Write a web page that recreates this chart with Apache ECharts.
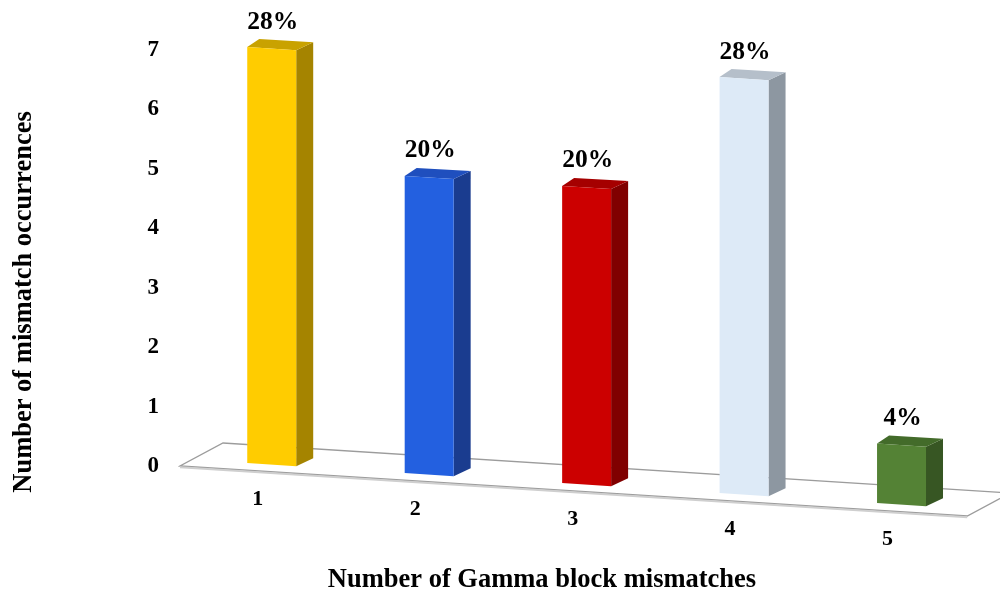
<!DOCTYPE html>
<html>
<head>
<meta charset="utf-8">
<script src="https://cdn.jsdelivr.net/npm/echarts@6/dist/echarts.min.js"></script>
<style>
  html, body { margin: 0; padding: 0; background: #fff; }
  #chart { width: 1000px; height: 595px; }
</style>
</head>
<body>
<div id="chart"></div>
<script>
// Mismatch counts per number of Gamma block mismatches
const categories = ['1', '2', '3', '4', '5'];
const occurrences = [7, 5, 5, 7, 1];
const yTicks = [0, 1, 2, 3, 4, 5, 6, 7];

// Face colours of each box: front, right side, top
const frontColors = ['#FFCC00', '#2360E0', '#CC0000', '#DDEAF7', '#548235'];
const sideColors  = ['#A58400', '#1A3C8F', '#800000', '#8D97A1', '#375623'];
const topColors   = ['#C9A200', '#1F4FBE', '#A50000', '#B5BFCA', '#436B2A'];

const total = occurrences.reduce((a, b) => a + b, 0);
const FONT = '"Liberation Serif", "Times New Roman", serif';

// Tilted-floor projection settings
const SLOPE = 0.0635;     // floor descends to the right
const LIFT = 6.4;         // box front plane sits above the axis baseline
const BAR_RATIO = 0.311;  // box width as a share of the category band
const DEPTH_L = [12, -8];
const DEPTH_R = [17, -8];
const FLOOR_IN = 13;
const FLOOR_DEPTH = [43, -23];

function renderFloor(params, api) {
  const cs = params.coordSys;
  const fl = [cs.x - FLOOR_IN, cs.y + cs.height];
  const fr = [cs.x + cs.width - FLOOR_IN, fl[1] + SLOPE * cs.width];
  const bl = [fl[0] + FLOOR_DEPTH[0], fl[1] + FLOOR_DEPTH[1]];
  const br = [fr[0] + FLOOR_DEPTH[0], fr[1] + FLOOR_DEPTH[1]];
  return {
    type: 'group',
    children: [
      { type: 'polygon', shape: { points: [fl, fr, br, bl] },
        style: { fill: '#ffffff', stroke: '#9C9C9C', lineWidth: 1.3 } },
      { type: 'line', shape: { x1: fl[0], y1: fl[1] + 1.2, x2: fr[0], y2: fr[1] + 1.2 },
        style: { stroke: '#CFCFCF', lineWidth: 2 } }
    ]
  };
}

function renderBar(params, api) {
  const i = api.value(0);
  const v = api.value(1);
  const idx = params.dataIndex;
  const zero = api.coord([i, 0]);
  const top = api.coord([i, v]);
  const band = api.size([1, 0])[0];
  const w = band * BAR_RATIO;
  const x0 = params.coordSys.x;
  const xl = zero[0] - w / 2;
  const xr = xl + w;
  const yl = zero[1] + SLOPE * (xl - x0) - LIFT;
  const yr = yl + SLOPE * w;
  const h = zero[1] - top[1];

  const front = [[xl, yl], [xr, yr], [xr, yr - h], [xl, yl - h]];
  const side = [[xr, yr], [xr + DEPTH_R[0], yr + DEPTH_R[1]],
                [xr + DEPTH_R[0], yr + DEPTH_R[1] - h], [xr, yr - h]];
  const lid = [[xl, yl - h], [xr, yr - h],
               [xr + DEPTH_R[0], yr - h + DEPTH_R[1]], [xl + DEPTH_L[0], yl - h + DEPTH_L[1]]];
  const pct = Math.round(v / total * 100) + '%';

  return {
    type: 'group',
    children: [
      { type: 'polygon', shape: { points: side }, style: { fill: sideColors[idx] } },
      { type: 'polygon', shape: { points: lid }, style: { fill: topColors[idx] } },
      { type: 'polygon', shape: { points: front }, style: { fill: frontColors[idx] } },
      { type: 'text', x: xl + w / 2 + 1, y: yl - h - 25,
        style: { text: pct, fill: '#000', font: 'bold 25.5px ' + FONT,
                 align: 'center', verticalAlign: 'middle' } },
      { type: 'text', x: xl + w / 2 - 14, y: yl + 36,
        style: { text: categories[idx], fill: '#000', font: 'bold 22px ' + FONT,
                 align: 'center', verticalAlign: 'middle' } }
    ]
  };
}

const chart = echarts.init(document.getElementById('chart'));
chart.setOption({
  animation: false,
  backgroundColor: '#ffffff',
  grid: { left: 193, right: 19.75, top: 50, bottom: 129, outerBoundsMode: 'none' },
  xAxis: {
    type: 'category',
    data: categories,
    axisLine: { show: false },
    axisTick: { show: false },
    axisLabel: { show: false },
    splitLine: { show: false }
  },
  yAxis: {
    type: 'value',
    min: yTicks[0],
    max: yTicks[yTicks.length - 1],
    interval: 1,
    axisLine: { show: false },
    axisTick: { show: false },
    splitLine: { show: false },
    axisLabel: {
      margin: 34,
      color: '#000',
      fontFamily: FONT,
      fontWeight: 'bold',
      fontSize: 23
    }
  },
  graphic: [
    { type: 'text', x: 542, y: 580,
      style: { text: 'Number of Gamma block mismatches', fill: '#000',
               font: 'bold 26.5px ' + FONT, align: 'center', verticalAlign: 'middle' } },
    { type: 'text', x: 24, y: 302, rotation: Math.PI / 2,
      style: { text: 'Number of mismatch occurrences', fill: '#000',
               font: 'bold 26.5px ' + FONT, align: 'center', verticalAlign: 'middle' } }
  ],
  series: [
    {
      type: 'custom',
      z: 1,
      silent: true,
      renderItem: renderFloor,
      data: [[0, 0]]
    },
    {
      type: 'custom',
      z: 2,
      renderItem: renderBar,
      data: occurrences.map((v, i) => [i, v])
    }
  ]
});
</script>
</body>
</html>
